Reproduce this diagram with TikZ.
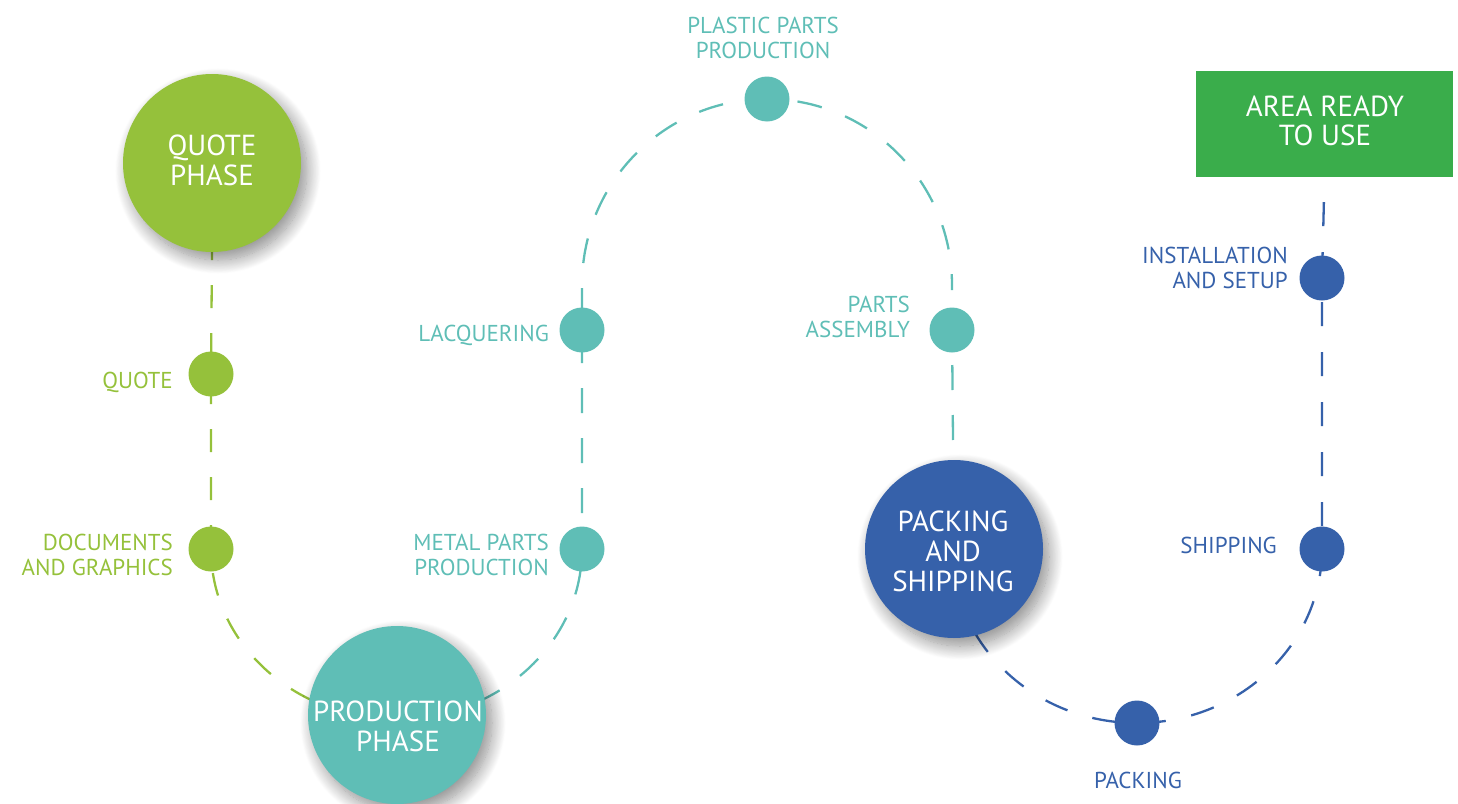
\documentclass[tikz,border=0pt]{standalone}
\usepackage{fontspec}
\setmainfont{PT Sans}
\usetikzlibrary{shadows.blur}
\definecolor{cgreen}{HTML}{95C13B}
\definecolor{cteal}{HTML}{5FBEB6}
\definecolor{cblue}{HTML}{3661AA}
\definecolor{cbox}{HTML}{3AAD4B}
\pgfdeclarelayer{bg}
\pgfsetlayers{bg,main}
\begin{document}
\begin{tikzpicture}[x=1pt,y=-1pt,
  bigc/.style={circle, fill=#1, minimum size=178pt, inner sep=0pt,
    blur shadow={shadow xshift=6pt, shadow yshift=-8pt, shadow blur radius=14pt, shadow blur steps=20, shadow opacity=45}},
  dot/.style={circle, fill=#1, minimum size=45pt, inner sep=0pt},
  lab/.style={text=#1, font=\fontsize{23}{25}\selectfont, inner sep=0pt, align=right, anchor=east},
  bigtext/.style={text=white, font=\fontsize{29}{30}\selectfont, align=center, inner sep=0pt},
  conn/.style={draw=#1, line width=2.3pt},
]
\useasboundingbox (0,0) rectangle (1458,803);

% big circles
\node[bigc=cgreen] (qp) at (212,163) {};
\node[bigc=cteal] (pp) at (397,715) {};
\node[bigc=cblue] (ps) at (954,549) {};
\node[bigtext] (qpt) at (212,160) {QUOTE\\PHASE};
\node[bigtext] (ppt) at (398,726) {PRODUCTION\\PHASE};
\node[bigtext] (pst) at (953,551) {PACKING\\AND\\SHIPPING};

% box
\node[fill=cbox, minimum width=257pt, minimum height=106pt, inner sep=0pt] (box) at (1324.5,124) {};
\node[text=white, font=\fontsize{29}{29}\selectfont, align=center, inner sep=0pt] (boxt) at (1325,121) {AREA READY\\TO USE};

% small dots
\node[dot=cgreen] (quote) at (211,374) {};
\node[dot=cgreen] (docs) at (211,549) {};
\node[dot=cteal] (lacq) at (582,330) {};
\node[dot=cteal] (metal) at (582,549) {};
\node[dot=cteal] (plastic) at (767,99) {};
\node[dot=cteal] (assem) at (952,330) {};
\node[dot=cblue] (pack) at (1137,723) {};
\node[dot=cblue] (ship) at (1322,549) {};
\node[dot=cblue] (inst) at (1322,278) {};

% labels
\node[lab=cgreen] (lquote) at (173,382) {QUOTE};
\node[lab=cgreen] (ldocs) at (173,555) {DOCUMENTS\\AND GRAPHICS};
\node[lab=cteal] (llacq) at (549,335) {LACQUERING};
\node[lab=cteal] (lmetal) at (549,555) {METAL PARTS\\PRODUCTION};
\node[lab=cteal, align=center, anchor=center] (lplastic) at (763,38) {PLASTIC PARTS\\PRODUCTION};
\node[lab=cteal] (lassem) at (910,317) {PARTS\\ASSEMBLY};
\node[lab=cblue] (linst) at (1288,268) {INSTALLATION\\AND SETUP};
\node[lab=cblue] (lship) at (1277,545) {SHIPPING};
\node[lab=cblue, anchor=center] (lpack) at (1138,780) {PACKING};

% connectors
\begin{pgfonlayer}{bg}
\draw[conn=cgreen, dash pattern=on 23pt off 25pt, dash phase=15pt]
  (qp.south) -- (quote.center) -- (docs.center)
  arc[start angle=180, end angle=90, x radius=185.5, y radius=170];
\draw[conn=cteal, dash pattern=on 25pt off 25pt, dash phase=29pt]
  (metal.center) arc[start angle=0, end angle=90, x radius=185.5, y radius=170];
\draw[conn=cteal, dash pattern=on 25pt off 25pt, dash phase=14pt]
  (metal.center) -- (lacq.center) -- ++(0,-45)
  arc[start angle=180, end angle=360, x radius=185, y radius=186];
\draw[conn=cteal, dash pattern=on 25pt off 25pt, dash phase=20pt]
  (assem.center) ++(0,-45) -- (assem.center) -- (ps.center);
\draw[conn=cblue, dash pattern=on 24pt off 26pt, dash phase=25pt]
  (box.south) -- (inst.center) -- (ship.center)
  arc[start angle=0, end angle=180, x radius=185, y radius=174];
\end{pgfonlayer}
\end{tikzpicture}
\end{document}
